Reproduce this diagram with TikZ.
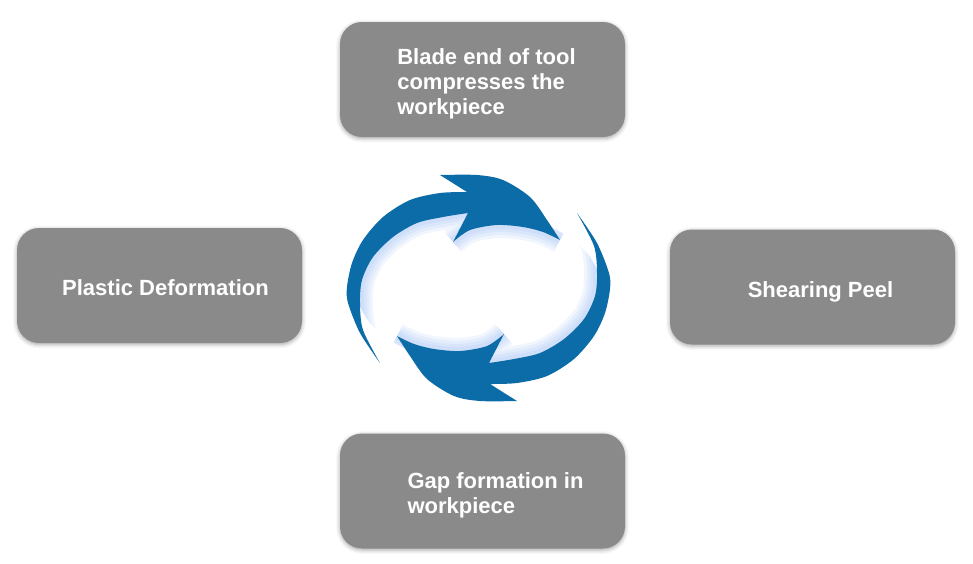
\documentclass[tikz,border=0pt]{standalone}
\usepackage{fontspec}
\setmainfont{Liberation Sans}
\usetikzlibrary{shadows.blur}
\definecolor{boxgray}{RGB}{138,138,138}
\definecolor{cycleblue}{RGB}{12,108,168}
\definecolor{glowblue}{RGB}{150,185,245}
\tikzset{
  stepbox/.style={rectangle, rounded corners=22pt, fill=boxgray, minimum width=285pt, minimum height=115pt,
    text=white, font=\bfseries\fontsize{22}{25}\selectfont,
    blur shadow={shadow xshift=0pt, shadow yshift=-1.5pt, shadow blur radius=4pt, shadow opacity=35}},
  glow/.style={draw=glowblue, line width=#1, opacity=0.14, line join=round}
}
% text block of a box, pushed right by half of #1
\newcommand{\steptext}[2]{\hspace*{#1}\raisebox{-10.5pt}[0pt][0pt]{\begin{tabular}{@{}l@{}}#2\end{tabular}}}
% one half of the cycle symbol, the other half is the same turned by 180 degrees
\newcommand{\arrowoutline}{(380,363)
  -- plot[smooth] coordinates {(380,363) (360,333) (348,303) (347,287) (352,263) (363,240) (383,217) (410,200) (440,193) (467,192)}
  -- (440,175)
  -- plot[smooth] coordinates {(440,175) (477,175) (503,180) (530,197) (547,220) (560,240)}
  -- plot[smooth] coordinates {(560,240) (543,232) (523,227) (497,225) (470,230) (453,242)}
  -- (468,213)
  -- plot[smooth] coordinates {(468,213) (443,217) (417,223) (393,237) (373,257) (362,280) (360,303) (363,330) (380,363)}
  -- cycle}
\newcommand{\arrowinner}{plot[smooth] coordinates {(560,240) (543,232) (523,227) (497,225) (470,230) (453,242)}
  plot[smooth] coordinates {(468,213) (443,217) (417,223) (393,237) (373,257) (362,280) (360,303) (363,330) (380,363)}}
\newcommand{\cyclearrow}[1]{%
  \begin{scope}[#1]
    \begin{scope}
      \clip (hub) ellipse [x radius=122, y radius=76];
      \foreach \w in {26,20,14,8} {\draw[glow=\w pt] \arrowinner;}
    \end{scope}
    \fill[cycleblue] \arrowoutline;
  \end{scope}}

\begin{document}
\begin{tikzpicture}[x=1pt, y=-1pt]
\useasboundingbox (0,0) rectangle (973,563);
\node[stepbox] (compress) at (482.5,79.5) {\steptext{8pt}{Blade end of tool\\compresses the\\workpiece}};
\node[stepbox] (shear) at (812.5,287) {\steptext{16pt}{Shearing Peel}};
\node[stepbox] (gap) at (482.5,491) {\steptext{26pt}{Gap formation in\\workpiece}};
\node[stepbox] (plastic) at (159.5,285.5) {\steptext{12pt}{Plastic Deformation}};
% cycle arrows
\coordinate (hub) at (478.5,288);
\cyclearrow{}
\cyclearrow{rotate around={180:(hub)}}
\end{tikzpicture}
\end{document}
